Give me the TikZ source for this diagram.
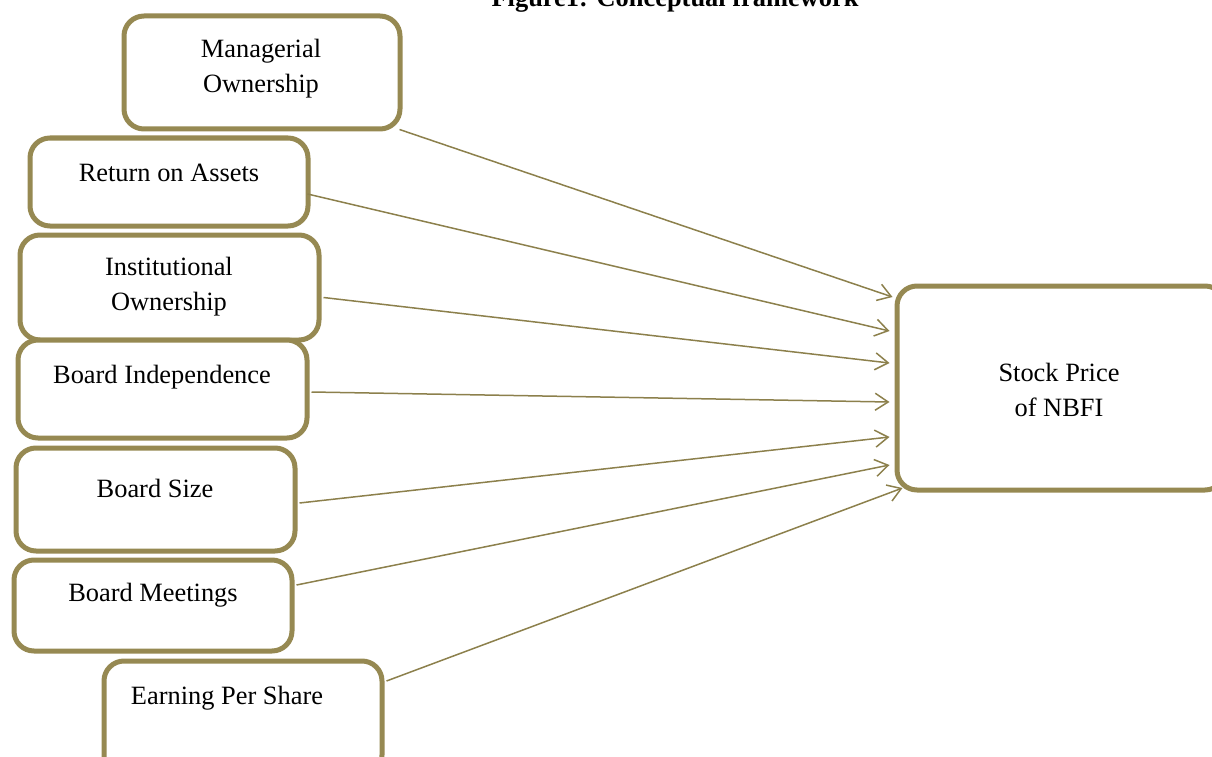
\documentclass[tikz,border=0pt]{standalone}
\usepackage{fontspec}
\setmainfont{Liberation Serif}
\usetikzlibrary{arrows.meta,calc}
\definecolor{olive}{RGB}{150,137,82}
\definecolor{oline}{RGB}{140,128,76}
\begin{document}
\begin{tikzpicture}[x=1pt,y=-1pt,
  box/.style={draw=olive,line width=5pt,rounded corners=20pt,fill=white,inner sep=0pt},
  lbl/.style={font=\fontsize{26.4}{35}\selectfont,align=center,text=black},
  conn/.style={draw=oline,line width=1.5pt,-{Straight Barb[length=13pt,width=17pt,line width=1.5pt]}}]
\useasboundingbox (0,0) rectangle (1212,757);
\node[font=\bfseries\fontsize{26.4}{30}\selectfont,anchor=base] (title) at (675,7) {Figure1: Conceptual framework};
% boxes
\node[box,minimum width=276pt,minimum height=113pt] (mo) at (262,72.5) {};
\node[lbl] at (261,68.5) {Managerial\\Ownership};
\node[box,minimum width=278pt,minimum height=88pt] (roa) at (169,182) {};
\node[lbl] at (169,173) {Return on Assets};
\node[box,minimum width=299pt,minimum height=105pt] (io) at (169.5,287.5) {};
\node[lbl] at (169,287) {Institutional\\Ownership};
\node[box,minimum width=289pt,minimum height=98pt] (bi) at (162.5,389) {};
\node[lbl] at (162,377) {Board Independence};
\node[box,minimum width=279pt,minimum height=103pt] (bs) at (155.5,499.5) {};
\node[lbl] at (155,488) {Board Size};
\node[box,minimum width=278pt,minimum height=91pt] (bm) at (153,605.5) {};
\node[lbl] at (153,595) {Board Meetings};
\node[box,minimum width=278pt,minimum height=114pt] (eps) at (243,718) {};
\node[lbl] at (227,698) {Earning Per Share};
\node[box,minimum width=328pt,minimum height=204pt] (sp) at (1061,388) {};
\node[lbl] at (1059,389.5) {Stock Price\\of NBFI};
% connectors
\draw[conn] ($(mo.south east)+(-3,-2)$) -- ($(sp.west)+(-2,-91)$);
\draw[conn] ($(roa.east)+(-3,12)$) -- ($(sp.west)+(-5,-57)$);
\draw[conn] ($(io.east)+(2,10)$) -- ($(sp.west)+(-5,-25)$);
\draw[conn] ($(bi.east)+(2,3)$) -- ($(sp.west)+(-5,14)$);
\draw[conn] ($(bs.east)+(2,3.5)$) -- ($(sp.west)+(-5,49)$);
\draw[conn] ($(bm.east)+(2,-20.5)$) -- ($(sp.west)+(-5,77)$);
\draw[conn] ($(eps.east)+(2,-37)$) -- ($(sp.west)+(8,100)$);
\end{tikzpicture}
\end{document}
